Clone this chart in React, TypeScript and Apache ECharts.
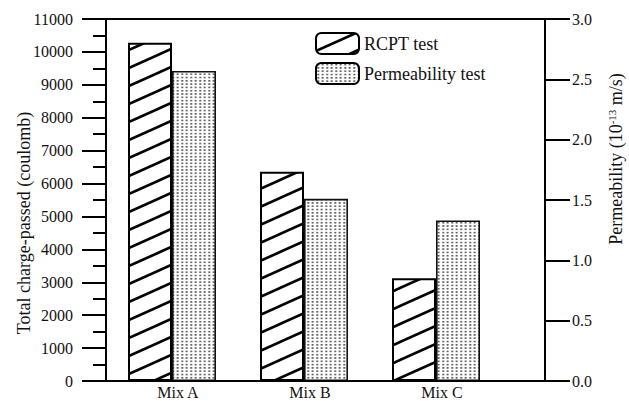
import React, { useEffect, useRef } from "react";
import * as echarts from "echarts";

const categories = ["Mix A", "Mix B", "Mix C"];
const rcptValues = [10280, 6360, 3120];
const permValues = [2.57, 1.51, 1.33];
const leftTicks = { min: 0, max: 11000, interval: 1000 };
const rightTicks = { min: 0, max: 3, interval: 0.5 };

const FONT = "Liberation Serif";
const W = 629;
const H = 401;
const GRID_LEFT = 106;
const GRID_RIGHT_X = 502;
const RIGHT_AXIS_X = 545;
const GRID_TOP = 19;
const GRID_BOTTOM_Y = 381;

const hatchSvg =
  "<svg xmlns='http://www.w3.org/2000/svg' width='40' height='18'>" +
  "<g stroke='black' stroke-width='2.6' stroke-linecap='square'>" +
  "<line x1='0' y1='18' x2='40' y2='0'/>" +
  "<line x1='0' y1='0' x2='40' y2='-18'/>" +
  "<line x1='0' y1='36' x2='40' y2='18'/>" +
  "</g></svg>";
const dotSvg =
  "<svg xmlns='http://www.w3.org/2000/svg' width='4.5' height='3.3'>" +
  "<rect x='1.3' y='0.8' width='1.8' height='1.6' fill='#444'/>" +
  "</svg>";

const toUrl = (s: string) => "data:image/svg+xml;charset=utf-8," + encodeURIComponent(s);

export default function App() {
  const ref = useRef<HTMLDivElement>(null);
  useEffect(() => {
    if (!ref.current) return;
    const chart = echarts.init(ref.current, null, { renderer: "svg" });
    const hatch: any = { image: toUrl(hatchSvg), repeat: "repeat", imageWidth: 40, imageHeight: 18 };
    const dots: any = { image: toUrl(dotSvg), repeat: "repeat", imageWidth: 4.5, imageHeight: 3.3 };
    const labelStyle = { color: "#111", fontFamily: FONT, fontSize: 16 };
    chart.setOption({
      animation: false,
      backgroundColor: "#fff",
      grid: {
        left: GRID_LEFT,
        right: W - GRID_RIGHT_X,
        top: GRID_TOP,
        bottom: H - GRID_BOTTOM_Y,
        containLabel: false,
        outerBoundsMode: "none",
      },
      legend: {
        orient: "vertical",
        left: 315,
        top: 32,
        padding: 0,
        itemWidth: 43,
        itemHeight: 21,
        itemGap: 7,
        textStyle: { color: "#111", fontFamily: FONT, fontSize: 18 },
        itemStyle: { borderColor: "#000", borderWidth: 2 },
        data: ["RCPT test", "Permeability test"],
      },
      xAxis: {
        type: "category",
        data: categories,
        axisLine: { lineStyle: { color: "#000", width: 2 } },
        axisTick: { show: false },
        axisLabel: {
          color: "#111",
          fontFamily: FONT,
          fontSize: 16,
          lineHeight: 16,
          margin: 3,
          padding: [0, 0, 0, 12],
        },
      },
      yAxis: [
        {
          type: "value",
          position: "left",
          min: leftTicks.min,
          max: leftTicks.max,
          interval: leftTicks.interval,
          name: "Total charge-passed (coulomb)",
          nameLocation: "middle",
          nameGap: 73,
          nameMoveOverlap: false,
          nameRotate: 90,
          nameTextStyle: { color: "#111", fontFamily: FONT, fontSize: 18, padding: [0, 46, 0, 0] },
          axisLine: { show: true, lineStyle: { color: "#000", width: 2 } },
          axisTick: { show: true, length: 24, lineStyle: { color: "#000", width: 2 } },
          minorTick: { show: true, splitNumber: 2, length: 13, lineStyle: { color: "#000", width: 2 } },
          splitLine: { show: false },
          axisLabel: { ...labelStyle, margin: 33, formatter: (v: number) => String(v) },
        },
        {
          type: "value",
          position: "right",
          offset: RIGHT_AXIS_X - GRID_RIGHT_X,
          min: rightTicks.min,
          max: rightTicks.max,
          interval: rightTicks.interval,
          name: "Permeability (10{sup|-13} m/s)",
          nameLocation: "middle",
          nameGap: 61,
          nameRotate: 90,
          nameTextStyle: {
            color: "#111",
            fontFamily: FONT,
            fontSize: 18,
            padding: [0, 0, 0, 82],
            rich: {
              sup: { fontFamily: FONT, fontSize: 11, color: "#111", verticalAlign: "top", padding: [0, 0, 8, 0] },
            },
          },
          axisLine: { show: true, lineStyle: { color: "#000", width: 2 } },
          axisTick: { show: true, length: 25, lineStyle: { color: "#000", width: 2 } },
          splitLine: { show: false },
          axisLabel: { ...labelStyle, margin: 27, formatter: (v: number) => v.toFixed(1) },
        },
      ],
      series: [
        {
          name: "RCPT test",
          type: "bar",
          yAxisIndex: 0,
          data: rcptValues,
          barWidth: 44,
          barGap: "0%",
          itemStyle: { color: hatch, borderColor: "#000", borderWidth: 2 },
        },
        {
          name: "Permeability test",
          type: "bar",
          yAxisIndex: 1,
          data: permValues,
          barWidth: 44,
          barGap: "0%",
          itemStyle: { color: dots, borderColor: "#111", borderWidth: 1.6 },
        },
      ],
      graphic: [
        {
          type: "line",
          shape: { x1: GRID_LEFT, y1: GRID_TOP, x2: RIGHT_AXIS_X, y2: GRID_TOP },
          style: { stroke: "#000", lineWidth: 2 },
          z: 10,
        },
        {
          type: "line",
          shape: { x1: GRID_LEFT, y1: GRID_BOTTOM_Y, x2: RIGHT_AXIS_X, y2: GRID_BOTTOM_Y },
          style: { stroke: "#000", lineWidth: 2 },
          z: 10,
        },
      ],
    });
    return () => chart.dispose();
  }, []);
  return (
    <div
      ref={ref}
      style={{ position: "fixed", left: 0, top: 0, width: W, height: H, background: "#fff" }}
    />
  );
}
